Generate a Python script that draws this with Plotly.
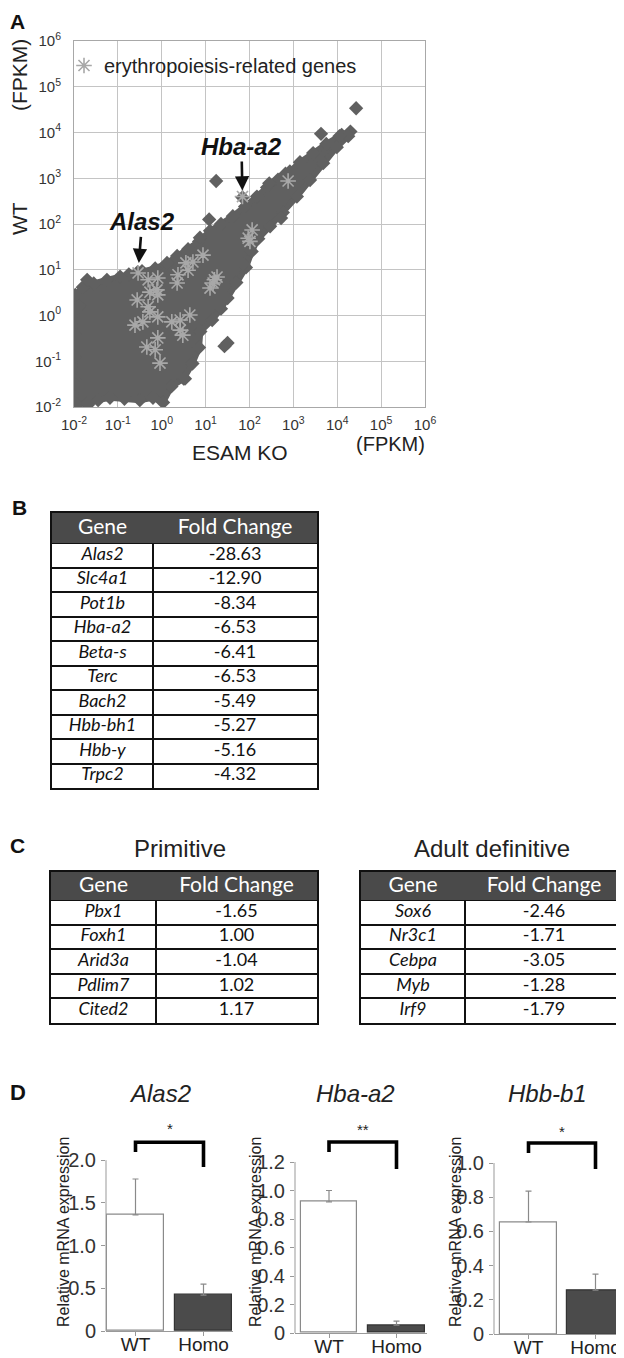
import numpy as np
import plotly.graph_objects as go

# The page body has an 8px margin, so the figure is 616x1350 and page pixels are offset by 8.
OFF = 8
W, H = 616, 1350
def X(px):
    return (px - OFF) / W
def Y(py):
    return 1 - (py - OFF) / H

FONT = "Liberation Sans"
TFONT = "Lato"

# ---------------- Panel A data (log10 FPKM) ----------------
decades = [-2, -1, 0, 1, 2, 3, 4, 5, 6]
# outline of the dense cloud of genes (ESAM KO vs WT)
cloud_log_ko = [4.30, 4.10, 3.75, 3.45, 3.15, 2.92, 2.65, 2.40, 2.17, 1.90, 1.62, 1.35, 1.10, 0.85,
                0.60, 0.35, 0.12, -0.15, -0.45, -0.75, -0.95, -1.25, -1.55, -1.80, -1.97,
                -1.99, -1.99, -1.99, -1.99, -1.97,
                -1.70, -1.45, -1.18, -0.85, -0.50, -0.20, 0.03, 0.22, 0.50, 0.70, 0.85, 0.88,
                1.15, 1.35, 1.50, 1.70, 1.92, 2.05, 2.20, 2.47, 2.76, 3.08, 3.38, 3.68, 3.99, 4.25]
cloud_log_wt = [4.02, 3.95, 3.75, 3.55, 3.35, 3.15, 2.97, 2.80, 2.60, 2.38, 2.17, 2.00, 1.85, 1.62,
                1.45, 1.30, 1.15, 1.03, 0.97, 0.90, 0.85, 0.78, 0.70, 0.62, 0.45,
                0.10, -0.40, -0.90, -1.40, -1.92,
                -1.93, -1.85, -1.80, -1.82, -1.85, -1.80, -1.90, -1.55, -1.38, -1.05, -0.70, -0.35,
                -0.10, 0.15, 0.38, 0.72, 1.05, 1.40, 1.68, 1.95, 2.25, 2.60, 2.96, 3.33, 3.68, 3.92]
# isolated genes outside the dense cloud
outlier_log_ko = [4.43, 3.63, 2.45, 1.24, 1.08, 2.72, 0.87, 2.82, 1.43, 1.50, -1.70, -1.88,
                  -1.98, -1.68, 0.53, 1.86, 1.84, -0.55, -1.95, 4.05]
outlier_log_wt = [4.53, 3.97, 2.89, 2.94, 2.10, 2.13, 1.70, 3.10, -0.67, -0.60, 0.78, 0.20,
                  -1.50, -1.95, -1.38, 1.12, 2.58, 0.95, -2.00, 3.92]
# erythropoiesis-related genes
ery_log_ko = [1.84, -0.54, 2.88, 2.06, 1.97, 2.01, 0.94, 0.71, 0.55, 0.60, 0.37, 0.35, 1.26, 1.17,
              1.10, 1.20, -0.31, -0.09, -0.27, -0.09, -0.56, -0.31, -0.27, -0.43, -0.61, -0.09,
              0.23, 0.42, 0.64, 0.42, 0.48, -0.09, -0.34, -0.15, -0.04, -0.11]
ery_log_wt = [2.60, 0.93, 2.94, 1.87, 1.69, 1.62, 1.32, 1.17, 1.15, 0.99, 0.89, 0.71, 0.84, 0.71,
              0.60, 0.78, 0.78, 0.82, 0.51, 0.45, 0.34, 0.19, 0.08, -0.14, -0.21, -0.03,
              -0.14, -0.10, 0.01, -0.32, -0.43, -0.49, -0.69, -0.75, -1.04, 0.56]
label_genes = ["Hba-a2", "Alas2"]
label_log_ko = [1.84, -0.54]
label_log_wt = [2.60, 0.93]

# ---------------- Panel B / C data ----------------
genes_b = ["Alas2", "Slc4a1", "Pot1b", "Hba-a2", "Beta-s", "Terc", "Bach2", "Hbb-bh1", "Hbb-y", "Trpc2"]
fc_b = [-28.63, -12.90, -8.34, -6.53, -6.41, -6.53, -5.49, -5.27, -5.16, -4.32]
genes_prim = ["Pbx1", "Foxh1", "Arid3a", "Pdlim7", "Cited2"]
fc_prim = [-1.65, 1.00, -1.04, 1.02, 1.17]
genes_adult = ["Sox6", "Nr3c1", "Cebpa", "Myb", "Irf9"]
fc_adult = [-2.46, -1.71, -3.05, -1.28, -1.79]
table_header = ["Gene", "Fold Change"]

# ---------------- Panel D data ----------------
groups = ["WT", "Homo"]
qpcr_genes = ["Alas2", "Hba-a2", "Hbb-b1"]
qpcr_mean = [[1.36, 0.42], [0.92, 0.056], [0.655, 0.257]]
qpcr_err = [[0.42, 0.13], [0.08, 0.028], [0.18, 0.093]]
sig_labels = ["*", "**", "*"]
bracket_top = [2.21, 1.34, 1.117]
bracket_left = [2.096, 1.27, 1.058]
bracket_right = [1.92, 1.151, 0.965]
sig_y = [2.37, 1.43, 1.187]
yticks_d = [[0, 0.5, 1.0, 1.5, 2.0], [0, 0.2, 0.4, 0.6, 0.8, 1.0, 1.2], [0, 0.2, 0.4, 0.6, 0.8, 1.0]]

fig = go.Figure()
annotations = []
shapes = []

def ann(text, px, py, size, **kw):
    d = dict(text=text, x=X(px), y=Y(py), xref="paper", yref="paper", showarrow=False,
             xanchor="center", yanchor="middle", font=dict(family=FONT, size=size, color="#222"))
    d.update(kw)
    annotations.append(d)

# ================= Panel A =================
p10 = lambda v: np.power(10.0, np.array(v))
fig.add_trace(go.Scatter(
    x=p10(cloud_log_ko), y=p10(cloud_log_wt), mode="lines+markers", fill="toself",
    fillcolor="#606060", line=dict(color="#606060", width=6),
    marker=dict(symbol="diamond", size=11, color="#606060"),
    showlegend=False, hoverinfo="skip", xaxis="x", yaxis="y"))
fig.add_trace(go.Scatter(
    x=p10(outlier_log_ko), y=p10(outlier_log_wt), mode="markers",
    marker=dict(symbol="diamond", size=11, color="#606060"),
    showlegend=False, xaxis="x", yaxis="y"))
fig.add_trace(go.Scatter(
    x=p10(ery_log_ko), y=p10(ery_log_wt), mode="markers", name="erythropoiesis-related genes",
    marker=dict(symbol="asterisk-open", size=13, color="#a8a8a8", line=dict(color="#a8a8a8", width=1.6)),
    showlegend=True, xaxis="x", yaxis="y"))

tick_text_log = ["10<sup>%d</sup>" % d for d in decades]
axA = dict(type="log", range=[decades[0], decades[-1]], tickvals=[10.0 ** d for d in decades],
           ticktext=tick_text_log, showgrid=True, gridcolor="#c4c4c4", gridwidth=1,
           showline=True, linecolor="#a8a8a8", linewidth=1, mirror=True, ticks="",
           zeroline=False, automargin=False, tickfont=dict(family=FONT, size=15, color="#333"))
fig.update_layout(
    xaxis=dict(axA, domain=[X(74), X(425)], anchor="y", ticklabelstandoff=4),
    yaxis=dict(axA, domain=[Y(407), Y(41)], anchor="x", ticklabelstandoff=9),
)

ann("<b>A</b>", 18, 22, 21, font=dict(family=FONT, size=21, color="#111"))
ann("WT", 20, 219, 21, textangle=-90)
ann("(FPKM)", 20, 75, 21, textangle=-90)
ann("ESAM KO", 240, 452, 21)
ann("(FPKM)", 390, 444, 20)

label_offsets = {"Hba-a2": (-1, -50, 6), "Alas2": (4, -51, 10)}
for g, lx, ly in zip(label_genes, label_log_ko, label_log_wt):
    axo, ayo, so = label_offsets[g]
    annotations.append(dict(text="<b><i>%s</i></b>" % g, x=lx, y=ly, xref="x", yref="y",
                            showarrow=True, ax=axo, ay=ayo, axref="pixel", ayref="pixel",
                            arrowhead=2, arrowsize=1.1, arrowwidth=2.6, arrowcolor="#111",
                            standoff=so, font=dict(family=FONT, size=24, color="#111")))

fig.update_layout(legend=dict(x=X(64), y=Y(46), xanchor="left", yanchor="top",
                              bgcolor="rgba(0,0,0,0)", font=dict(family=FONT, size=20, color="#222"),
                              itemwidth=30, tracegroupgap=0))

# ================= Panel B / C tables (drawn on cartesian subplots) =================
def fmt(v):
    return "%.2f" % v

def add_table(n, genes, fcs, x0, x1, y0, y1, colw, head_h):
    xa, ya = "x%d" % n, "y%d" % n
    tw = float(sum(colw))
    th = float(y1 - y0)
    nrows = len(genes)
    row_h = (th - head_h) / nrows
    bounds = [head_h + k * row_h for k in range(nrows)]
    ycent = [head_h + (k + 0.5) * row_h for k in range(nrows)]
    xcent = [colw[0] / 2.0, colw[0] + colw[1] / 2.0]
    # header band
    fig.add_trace(go.Bar(x=[tw], y=[head_h / 2.0], base=0, width=head_h, orientation="h",
                         marker=dict(color="#4a4a4a", line=dict(width=0)), xaxis=xa, yaxis=ya,
                         showlegend=False, hoverinfo="skip"))
    fig.add_trace(go.Scatter(x=xcent, y=[head_h / 2.0 + 1] * 2, text=table_header, mode="text",
                             textposition="middle center",
                             textfont=dict(family=TFONT, size=21, color="white"),
                             xaxis=xa, yaxis=ya, showlegend=False, hoverinfo="skip"))
    fig.add_trace(go.Scatter(x=[xcent[0]] * nrows, y=ycent, text=["<i>%s</i>" % g for g in genes],
                             mode="text", textposition="middle center",
                             textfont=dict(family=TFONT, size=18, color="#111"),
                             xaxis=xa, yaxis=ya, showlegend=False, hoverinfo="skip"))
    fig.add_trace(go.Scatter(x=[xcent[1]] * nrows, y=ycent, text=[fmt(v) for v in fcs],
                             mode="text", textposition="middle center",
                             textfont=dict(family=TFONT, size=18, color="#111"),
                             xaxis=xa, yaxis=ya, showlegend=False, hoverinfo="skip"))
    common = dict(showticklabels=False, ticks="", showline=True, mirror=True, linecolor="#111",
                  linewidth=2, zeroline=False, showgrid=True, gridcolor="#111", gridwidth=1.5,
                  automargin=False, fixedrange=True)
    fig.layout["xaxis%d" % n] = dict(common, domain=[X(x0), X(x1)], anchor=ya, range=[0, tw],
                                     tickvals=[colw[0]])
    fig.layout["yaxis%d" % n] = dict(common, domain=[Y(y1), Y(y0)], anchor=xa, range=[th, 0],
                                     tickvals=bounds)

ann("<b>B</b>", 19, 507, 21, font=dict(family=FONT, size=21, color="#111"))
add_table(2, genes_b, fc_b, 52, 317, 513, 788, [101, 164], 30)

ann("<b>C</b>", 18, 845, 21, font=dict(family=FONT, size=21, color="#111"))
ann("Primitive", 180, 848, 24)
ann("Adult definitive", 492, 848, 24)
add_table(3, genes_prim, fc_prim, 51, 317, 872, 1023, [105, 161], 28)
add_table(4, genes_adult, fc_adult, 361, 623, 872, 1023, [104, 158], 28)

# ================= Panel D =================
ann("<b>D</b>", 18, 1092, 22, font=dict(family=FONT, size=22, color="#111"))
chart_px = [dict(axis=106, wt=135.5, unit=68, end=233, y0=1331, ppu=85.4, top=2.45, tx=160, yt=63),
            dict(axis=295, wt=329, unit=67.5, end=427, y0=1333, ppu=142.5, top=1.47, tx=355, yt=255),
            dict(axis=494, wt=528.5, unit=67, end=624, y0=1334, ppu=171, top=1.22, tx=547, yt=455)]
xpos = list(range(len(groups)))
for i, cp in enumerate(chart_px):
    n = i + 5
    xa, ya = "x%d" % n, "y%d" % n
    fig.add_trace(go.Bar(
        x=xpos, y=qpcr_mean[i], width=0.84, xaxis=xa, yaxis=ya, showlegend=False,
        marker=dict(color=["white", "#4b4b4b"], line=dict(color=["#8a8a8a", "#333333"], width=1.2)),
        error_y=dict(type="data", symmetric=False, array=qpcr_err[i], arrayminus=[0, 0],
                     color="#8a8a8a", thickness=1.2, width=3)))
    fig.add_trace(go.Scatter(
        x=[xpos[0], xpos[0], xpos[1], xpos[1]],
        y=[bracket_left[i], bracket_top[i], bracket_top[i], bracket_right[i]],
        mode="lines", line=dict(color="black", width=3.6), xaxis=xa, yaxis=ya,
        showlegend=False, hoverinfo="skip"))
    annotations.append(dict(text=sig_labels[i], x=0.5, y=sig_y[i], xref=xa, yref=ya,
                            showarrow=False, font=dict(family=FONT, size=15, color="#222")))
    fig.layout["xaxis%d" % n] = dict(
        domain=[X(cp["axis"]), X(cp["end"])], anchor=ya,
        range=[(cp["axis"] - cp["wt"]) / cp["unit"], (cp["end"] - cp["wt"]) / cp["unit"]],
        tickvals=xpos, ticktext=groups, showline=True, linecolor="#999", linewidth=1,
        ticks="outside", ticklen=4, tickcolor="#999", showgrid=False, zeroline=False,
        automargin=False, ticklabelstandoff=-8,
        tickfont=dict(family=FONT, size=19, color="#222"))
    fig.layout["yaxis%d" % n] = dict(
        domain=[Y(cp["y0"]), Y(cp["y0"] - cp["top"] * cp["ppu"])], anchor=xa,
        range=[0, cp["top"]], tickvals=yticks_d[i],
        ticktext=["0" if v == 0 else "%.1f" % v for v in yticks_d[i]],
        showline=False, ticks="outside", ticklen=4, tickcolor="#999", showgrid=False,
        zeroline=False, automargin=False, ticklabelstandoff=1,
        tickfont=dict(family=FONT, size=20, color="#333"))
    shapes.append(dict(type="line", xref="%s domain" % xa, yref=ya, x0=0, x1=0,
                       y0=0, y1=max(yticks_d[i]), line=dict(color="#999", width=1)))
    ann("<i>%s</i>" % qpcr_genes[i], cp["tx"], 1093, 24)
    ann("Relative mRNA expression", cp["yt"], 1232, 16, textangle=-90)

fig.update_layout(
    width=W, height=H, margin=dict(l=0, r=0, t=0, b=0, autoexpand=False),
    paper_bgcolor="white", plot_bgcolor="white",
    annotations=annotations, shapes=shapes, bargap=0,
    font=dict(family=FONT, color="#222"),
)

fig.write_html("out.html")
